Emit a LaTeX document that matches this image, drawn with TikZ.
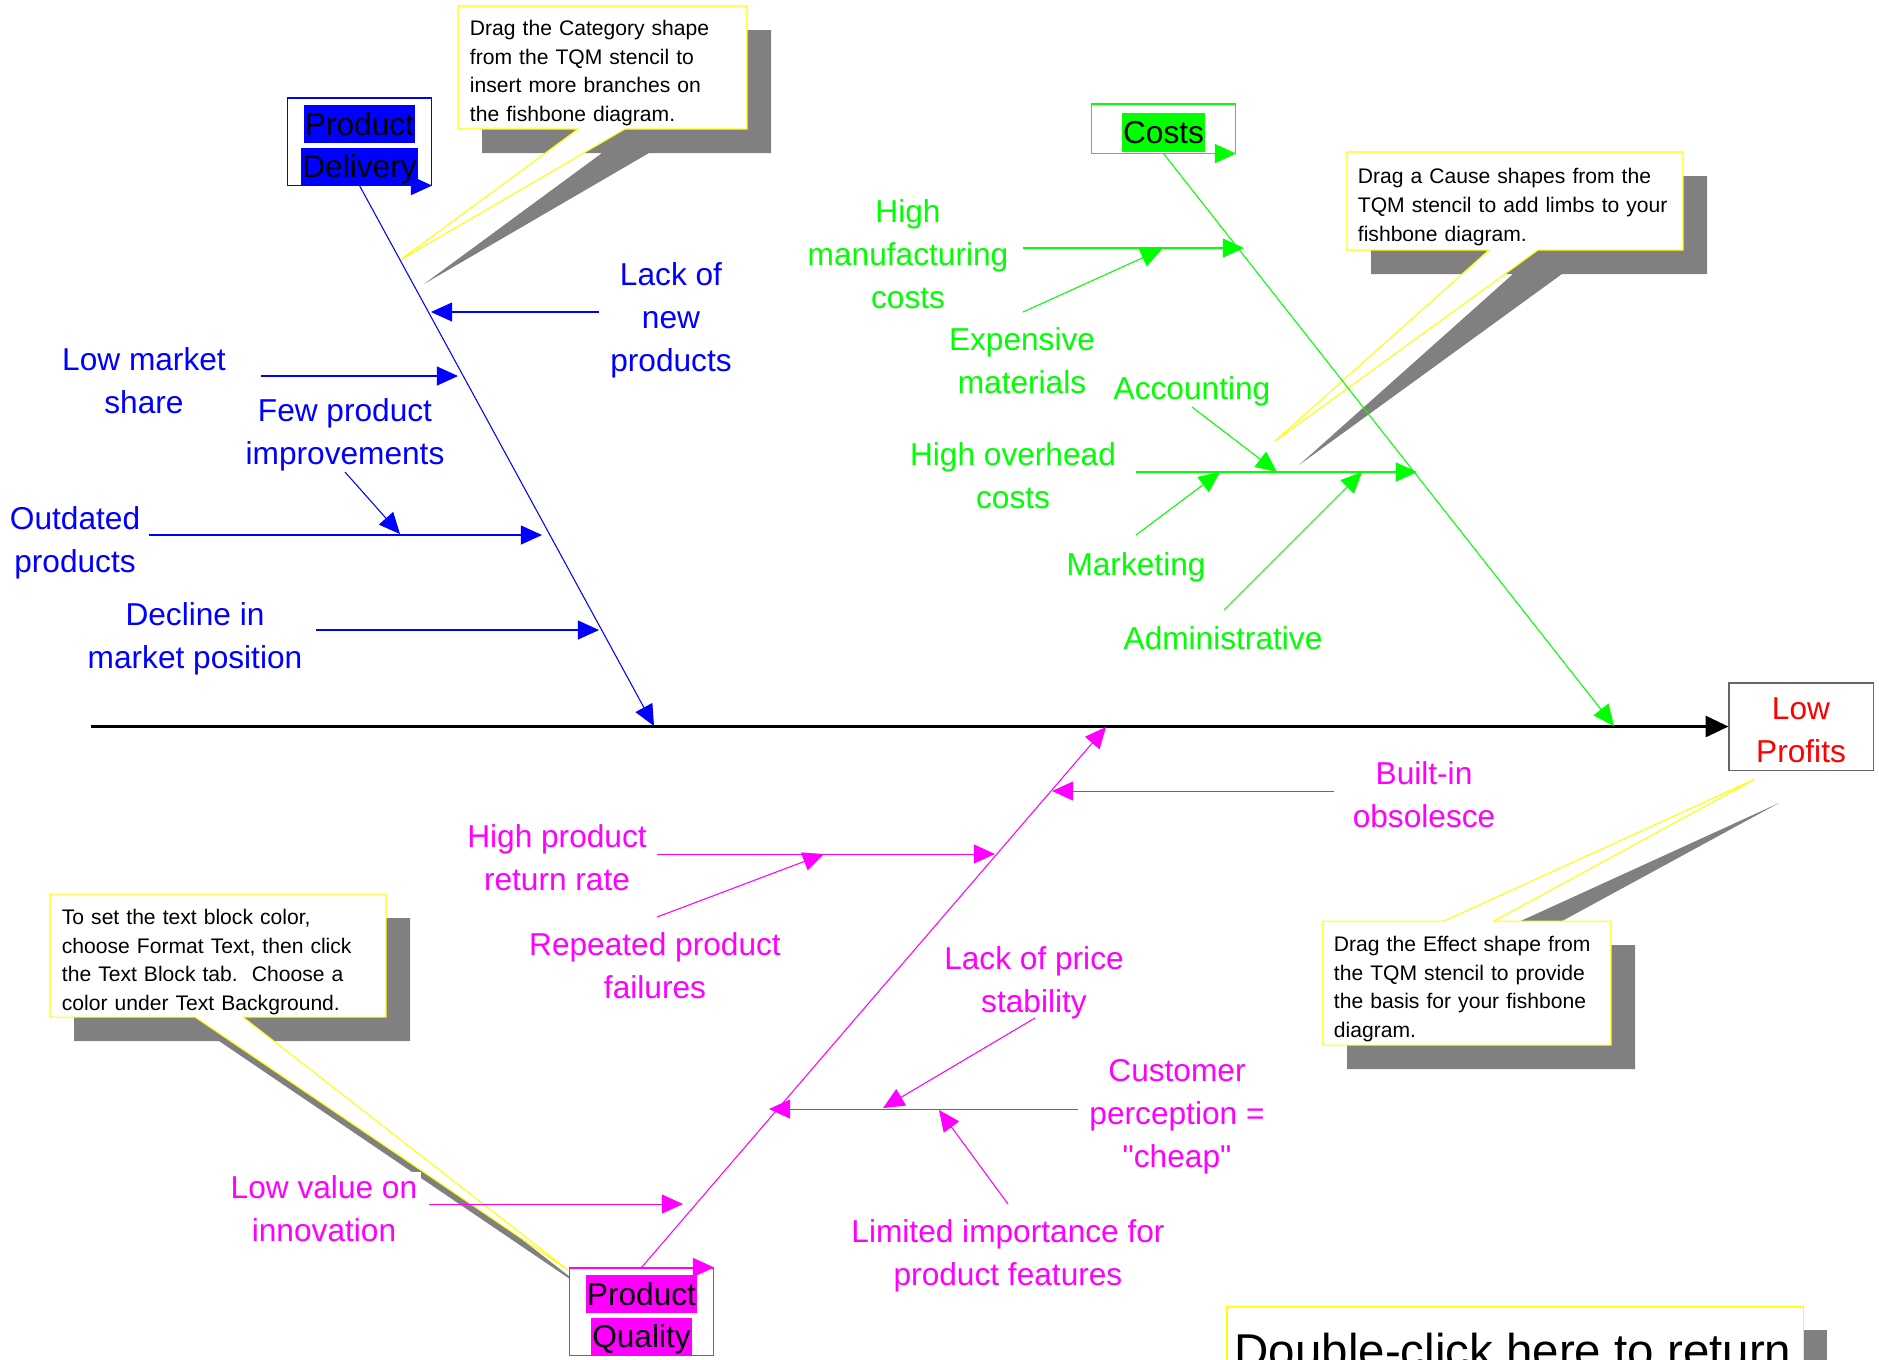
\documentclass[tikz,border=0pt]{standalone}
\usepackage{fontspec}
\setmainfont{Liberation Sans}[Ligatures=TeXOff]
\usetikzlibrary{arrows.meta}
\usetikzlibrary{calc}
\definecolor{vblue}{RGB}{0,0,255}
\definecolor{vgreen}{RGB}{0,255,0}
\definecolor{vmagenta}{RGB}{255,0,255}
\definecolor{vyellow}{RGB}{255,255,0}
\definecolor{vshadow}{RGB}{128,128,128}
\newcommand{\lowered}[1]{\raisebox{-1.1pt}[\height][\depth]{#1}}
\newcommand{\hilite}[2]{\lowered{\setlength{\fboxsep}{0.4pt}\colorbox{#1}{\rule[-0.21em]{0pt}{1.12em}#2}}}
\tikzset{cause label/.style={fill=white, align=center, inner sep=1pt, font=\fontsize{9}{12.2}\selectfont},
  cause arrow/.style={line width=0.3pt, -{Triangle[length=6pt, width=5.4pt]}},
  category box/.style={draw=#1, line width=0.3pt, fill=white, align=center, inner sep=0pt, minimum width=1.44cm, font=\fontsize{9}{12.2}\selectfont},
  category arrow/.style={draw=#1, line width=0.3pt, -{Triangle[length=6pt, width=5.4pt, fill=#1]}},
  note text/.style={align=left, inner xsep=0.12cm, inner ysep=0pt, font=\fontsize{6}{8.2}\selectfont},
  note body/.style={draw=vyellow, fill=white, line width=0.3pt},
  note shadow/.style={fill=vshadow}}

\begin{document}
\begin{tikzpicture}[x=0.01cm, y=-0.01cm]
\useasboundingbox (0,0) rectangle (1879,1359);

\begin{scope}[shift={(24,24)}]
\fill[note shadow] (458,6) -- (747,6) -- (747,129) -- (625,129) -- (400,260) -- (578,129) -- (458,129) -- cycle;
\fill[note shadow] (1347,152) -- (1683,152) -- (1683,250) -- (1538,250) -- (1275,441) -- (1489,250) -- (1347,250) -- cycle;
\fill[note shadow] (1323,921) -- (1444,921) -- (1755,779) -- (1494,921) -- (1611,921) -- (1611,1045) -- (1323,1045) -- cycle;
\fill[note shadow] (50,894) -- (386,894) -- (386,1017) -- (243,1017) -- (568,1270) -- (195,1017) -- (50,1017) -- cycle;
\fill[note shadow] (1227,1306) rectangle (1803,1400);
\end{scope}
\filldraw[note body] (458,6) -- (747,6) -- (747,129) -- (625,129) -- (400,260) -- (578,129) -- (458,129) -- cycle;
\filldraw[note body] (1347,152) -- (1683,152) -- (1683,250) -- (1538,250) -- (1275,441) -- (1489,250) -- (1347,250) -- cycle;
\filldraw[note body] (1323,921) -- (1444,921) -- (1755,779) -- (1494,921) -- (1611,921) -- (1611,1045) -- (1323,1045) -- cycle;
\filldraw[note body] (50,894) -- (386,894) -- (386,1017) -- (243,1017) -- (568,1270) -- (195,1017) -- (50,1017) -- cycle;
\filldraw[note body] (1227,1306) rectangle (1803,1400);

\node[note text, text width=2.65cm] (n1) at (602.5,73) {Drag the Category shape\\from the TQM stencil to\\insert more branches on\\the fishbone diagram.};
\node[note text, text width=3.14cm] (n2) at (1515,207) {Drag a Cause shapes from the\\TQM stencil to add limbs to your\\fishbone diagram.};
\node[note text, text width=2.66cm] (n3) at (1467,989) {Drag the Effect shape from\\the TQM stencil to provide\\the basis for your fishbone\\diagram.};
\node[note text, text width=3.12cm] (n4) at (218,962) {To set the text block color,\\choose Format Text, then click\\the Text Block tab.\ \ Choose a\\color under Text Background.};
\node[anchor=base west, inner sep=0pt, font=\fontsize{13.5}{16}\selectfont] (ret) at (1234,1367) {Double-click here to return};

\node[category box=vblue, minimum height=0.87cm] (pd) at (359.5,141.5) {\hilite{vblue}{Product}\\\hilite{vblue}{Delivery}};
\node[category box=vgreen, minimum height=0.49cm] (cs) at (1163.5,128.5) {\hilite{vgreen}{Costs}};
\node[category box=vmagenta, minimum height=0.87cm] (pq) at (641.5,1311.5) {\hilite{vmagenta}{Product}\\\hilite{vmagenta}{Quality}};
\node[category box=black!60, text=red, minimum height=0.87cm] (lp) at (1801,726.5) {\lowered{Low}\\\lowered{Profits}};
\draw[category arrow=vblue] (pd.south west) -- (pd.south east);
\draw[category arrow=vgreen] (cs.south west) -- (cs.south east);
\draw[category arrow=vmagenta] (pq.north west) -- (pq.north east);

\coordinate (head) at (91,726.5);
\draw[line width=0.7pt, -{Triangle[length=6.5pt, width=6pt]}] (head) -- (lp.west);

\coordinate (pdend) at (654,726);
\coordinate (csend) at (1614,726);
\coordinate (pqend) at (1106,727);
\draw[cause arrow, vblue] (pd.south) -- (pdend);
\draw[cause arrow, vgreen] (cs.south) -- (csend);
\draw[cause arrow, vmagenta] (pq.north) -- (pqend);

\node[cause label, text=vblue] (lacknew) at (671,320) {Lack of\\new\\products};
\node[cause label, text=vblue] (lowshare) at (144,381) {Low market\\share};
\node[cause label, text=vblue] (fewimp) at (345,435) {Few product\\improvements};
\node[cause label, text=vblue] (outdated) at (75,543) {Outdated\\products};
\node[cause label, text=vblue] (decline) at (195,639) {Decline in\\market position};
\path (599,312) coordinate (lacknew-a) (431,312) coordinate (lacknew-b)
      (261,376) coordinate (lowshare-a) (458,376) coordinate (lowshare-b)
      (345,472) coordinate (fewimp-a) (400,534) coordinate (fewimp-b)
      (149,535) coordinate (outdated-a) (542,535) coordinate (outdated-b)
      (316,630) coordinate (decline-a) (599,630) coordinate (decline-b);
\foreach \c in {lacknew, lowshare, fewimp, outdated, decline}
  \draw[cause arrow, vblue] (\c-a) -- (\c-b);

\node[cause label, text=vgreen] (highmfg) at (908,254) {High\\manufacturing\\costs};
\node[cause label, text=vgreen] (expmat) at (1022,361) {Expensive\\materials};
\node[cause label, text=vgreen] (acct) at (1192,391) {Accounting};
\node[cause label, text=vgreen] (overhead) at (1013,476) {High overhead\\costs};
\node[cause label, text=vgreen] (mkt) at (1136,567) {Marketing};
\node[cause label, text=vgreen] (admin) at (1223,638) {Administrative};
\path (1023,248) coordinate (highmfg-a) (1244,248) coordinate (highmfg-b)
      (1023,312) coordinate (expmat-a) (1162,249) coordinate (expmat-b)
      (1192,407) coordinate (acct-a) (1277,472) coordinate (acct-b)
      (1136,472) coordinate (overhead-a) (1417,472) coordinate (overhead-b)
      (1136,535) coordinate (mkt-a) (1220,472) coordinate (mkt-b)
      (1224,610) coordinate (admin-a) (1362,472) coordinate (admin-b);
\foreach \c in {highmfg, expmat, acct, overhead, mkt, admin}
  \draw[cause arrow, vgreen] (\c-a) -- (\c-b);

\node[cause label, text=vmagenta] (builtin) at (1424,795) {Built-in\\obsolesce};
\node[cause label, text=vmagenta] (returns) at (557,858) {High product\\return rate};
\node[cause label, text=vmagenta] (repeated) at (655,966) {Repeated product\\failures};
\node[cause label, text=vmagenta] (pricestab) at (1034,983) {Lack of price\\stability};
\node[cause label, text=vmagenta] (cheap) at (1177,1117) {Customer\\perception =\\"cheap"};
\node[cause label, text=vmagenta] (features) at (1008,1256) {Limited importance for\\product features};
\node[cause label, text=vmagenta] (innov) at (324,1209) {Low value on\\innovation};
\path (1334,791) coordinate (builtin-a) (1052,791) coordinate (builtin-b)
      (657,854) coordinate (returns-a) (995,854) coordinate (returns-b)
      (657,917) coordinate (repeated-a) (824,854) coordinate (repeated-b)
      (1035,1018) coordinate (pricestab-a) (883,1108) coordinate (pricestab-b)
      (1078,1109) coordinate (cheap-a) (769,1109) coordinate (cheap-b)
      (1008,1204) coordinate (features-a) (939,1110) coordinate (features-b)
      (429,1204) coordinate (innov-a) (683,1204) coordinate (innov-b);
\foreach \c in {builtin, returns, repeated, pricestab, cheap, features, innov}
  \draw[cause arrow, vmagenta] (\c-a) -- (\c-b);
\end{tikzpicture}
\end{document}
